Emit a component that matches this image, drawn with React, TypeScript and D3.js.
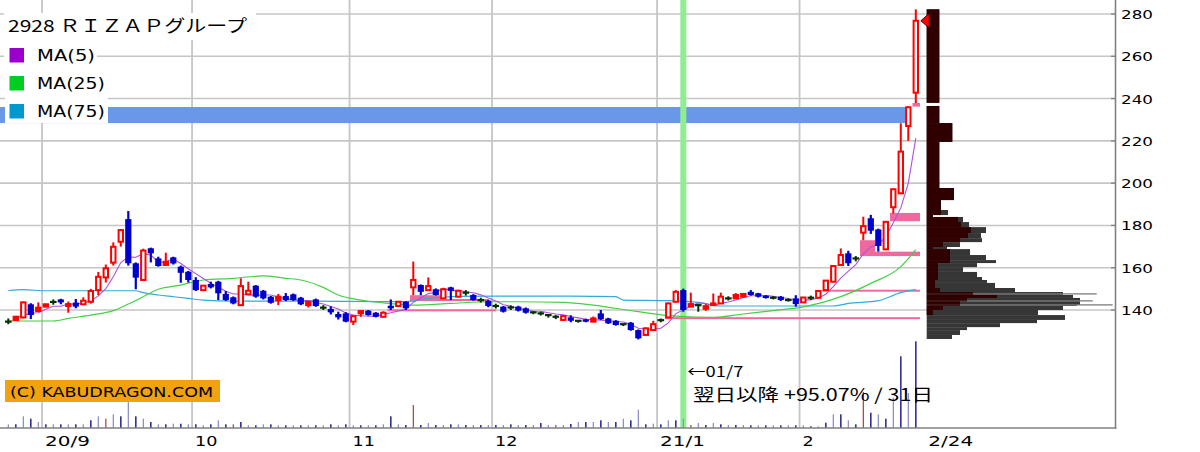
import React from 'react';
import * as d3 from 'd3';

// ---- data ----
const opens = [
  134.5, 135.3, 136.5, 142.7, 139.5, 141.6, 143.8, 145.0, 141.9, 143.5,
  142.7, 143.9, 149.4, 155.4, 162.4, 172.3, 183.0, 162.1, 154.2, 169.2,
  164.4, 161.3, 164.9, 160.5, 158.1, 154.2, 149.4, 152.3, 153.4, 147.6,
  146.0, 142.3, 147.4, 151.5, 149.1, 146.3, 144.7, 146.6, 147.4, 145.8,
  142.3, 145.0, 141.1, 140.5, 138.1, 138.4, 134.5, 138.4, 139.7, 138.7,
  136.8, 142.0, 141.9, 143.9, 150.7, 151.8, 149.4, 149.8, 145.5, 150.7,
  146.3, 148.2, 147.1, 144.7, 144.4, 141.9, 141.6, 141.2, 141.6, 140.8,
  138.9, 138.4, 137.6, 136.8, 135.3, 136.5, 134.9, 135.6, 134.5, 138.4,
  136.0, 134.9, 133.3, 134.0, 130.5, 128.2, 130.5, 135.2, 136.5, 143.9,
  149.4, 141.6, 142.3, 140.6, 142.3, 143.1, 145.5, 145.5, 146.3, 148.6,
  147.9, 146.8, 145.8, 146.3, 144.7, 145.5, 143.6, 145.8, 145.8, 149.4,
  153.4, 161.3, 166.8, 164.4, 176.6, 183.4, 178.1, 168.7, 188.6, 195.2,
  227.0, 242.8,
];
const highs = [
  136.0, 137.2, 144.0, 143.2, 143.6, 143.0, 145.0, 145.3, 144.0, 145.2,
  146.0, 150.0, 158.0, 161.5, 172.0, 178.0, 186.8, 162.5, 169.0, 169.5,
  165.2, 167.1, 165.2, 161.0, 158.5, 155.5, 151.8, 153.4, 153.8, 149.0,
  146.4, 155.0, 153.4, 151.8, 149.5, 146.6, 147.6, 148.0, 147.8, 146.2,
  144.3, 145.4, 142.3, 141.7, 139.2, 139.0, 137.5, 139.8, 140.0, 139.0,
  139.4, 145.0, 144.2, 144.2, 162.9, 152.1, 155.4, 150.2, 150.5, 151.0,
  149.5, 149.4, 147.5, 145.8, 144.8, 143.0, 141.9, 142.2, 142.0, 141.2,
  139.3, 139.2, 137.9, 137.6, 137.4, 137.5, 135.0, 135.9, 136.9, 140.0,
  136.3, 135.2, 133.3, 134.3, 130.8, 131.8, 134.9, 136.0, 143.5, 149.4,
  150.1, 148.2, 142.5, 142.8, 147.8, 148.2, 146.5, 148.0, 147.9, 149.4,
  148.1, 147.0, 146.6, 146.6, 145.5, 147.0, 146.2, 146.8, 149.1, 154.2,
  161.0, 169.1, 168.0, 165.5, 184.1, 185.0, 178.5, 182.0, 197.5, 228.3,
  236.2, 282.2,
];
const lows = [
  133.3, 135.0, 136.0, 135.7, 139.0, 141.2, 142.5, 142.7, 138.7, 140.8,
  142.3, 143.0, 147.0, 153.0, 161.0, 170.0, 161.0, 149.8, 154.0, 162.5,
  160.5, 161.0, 161.5, 152.9, 153.0, 149.0, 149.2, 150.2, 144.7, 144.3,
  142.7, 142.0, 147.0, 145.8, 145.0, 143.0, 142.3, 144.2, 144.3, 142.3,
  141.2, 141.5, 140.0, 137.9, 135.5, 134.2, 132.9, 136.8, 137.3, 136.5,
  136.5, 140.0, 141.5, 140.0, 147.0, 147.0, 149.0, 146.8, 145.2, 144.7,
  146.0, 146.8, 144.4, 143.5, 141.3, 140.7, 138.8, 140.0, 139.3, 138.3,
  138.0, 137.4, 136.4, 135.7, 135.0, 134.2, 134.0, 134.2, 134.2, 135.3,
  133.4, 132.6, 132.4, 130.2, 126.1, 127.9, 130.2, 134.2, 136.2, 143.5,
  139.2, 141.3, 139.2, 139.6, 142.0, 142.8, 144.5, 145.3, 146.0, 146.8,
  145.9, 145.4, 145.0, 144.3, 144.0, 141.6, 143.3, 144.8, 145.5, 149.4,
  153.0, 161.0, 160.8, 163.0, 173.0, 176.0, 167.6, 168.3, 185.7, 194.8,
  220.0, 237.9,
];
const closes = [
  134.5, 136.8, 143.6, 137.6, 141.1, 142.7, 143.8, 143.6, 142.8, 141.6,
  144.4, 149.0, 155.7, 159.7, 169.9, 177.8, 162.1, 155.3, 168.1, 166.8,
  160.8, 162.8, 162.0, 157.6, 154.2, 149.4, 151.5, 150.7, 147.9, 144.7,
  143.1, 151.3, 149.1, 146.3, 145.5, 143.4, 146.3, 144.7, 144.7, 142.7,
  143.9, 141.9, 141.1, 138.9, 136.5, 134.5, 137.1, 139.5, 137.6, 136.8,
  138.7, 140.8, 143.9, 140.8, 154.2, 148.6, 151.3, 147.1, 149.8, 149.1,
  149.1, 148.2, 144.7, 144.7, 141.9, 141.9, 139.2, 141.2, 139.7, 138.7,
  138.9, 138.4, 137.6, 136.8, 137.1, 134.9, 134.9, 134.5, 136.0, 135.6,
  133.7, 132.9, 133.3, 130.5, 126.6, 131.3, 133.3, 135.2, 143.1, 148.6,
  140.0, 142.8, 142.3, 141.8, 143.1, 146.3, 145.5, 147.1, 147.6, 147.1,
  146.3, 145.8, 145.8, 144.7, 144.7, 142.8, 145.9, 145.8, 149.0, 153.9,
  160.8, 166.0, 162.1, 164.4, 179.7, 177.5, 170.3, 181.7, 197.1, 214.9,
  235.9, 276.8,
];
// volume (10k shares)
const volumes = [
  37, 37, 117, 93, 60, 37, 37, 37, 37, 37,
  37, 77, 117, 93, 137, 117, 260, 117, 93, 60,
  37, 37, 43, 43, 37, 37, 27, 37, 77, 37,
  37, 60, 27, 27, 37, 37, 27, 27, 27, 27,
  27, 27, 27, 37, 27, 37, 27, 27, 27, 27,
  37, 117, 37, 30, 230, 30, 50, 30, 30, 37,
  37, 30, 30, 30, 30, 30, 30, 37, 30, 30,
  30, 50, 30, 30, 30, 40, 60, 60, 60, 77,
  60, 60, 93, 77, 183, 37, 43, 37, 77, 77,
  93, 30, 50, 30, 50, 37, 30, 30, 30, 27,
  27, 27, 27, 27, 27, 27, 27, 17, 17, 53,
  137, 137, 77, 37, 360, 153, 137, 93, 303, 717,
  350, 867,
];
const redVolumeDays = [13, 30, 54, 73, 91, 114];

// moving averages read at sample days
const ma5Head = [[1, 136.0], [2, 137.5], [3, 138.5]];
const ma25Days = [0, 6, 8, 11, 14, 16, 18, 20, 23, 26, 30, 34, 37, 39, 42, 44, 47, 50, 54, 59, 64, 68, 74, 78, 84, 89, 94, 98, 102, 106, 111, 115, 119, 121];
const ma25Vals = [134.8, 134.8, 136.0, 137.6, 139.7, 142.8, 146.3, 149.8, 151.8, 154.2, 155.0, 156.1, 155.0, 154.2, 150.7, 147.1, 144.7, 143.4, 142.3, 143.1, 143.9, 143.9, 143.6, 142.3, 139.2, 137.1, 136.5, 138.1, 139.7, 141.5, 146.3, 152.6, 160.5, 168.6];
const ma75Days = [0, 2, 5, 17, 18, 20, 22, 24, 26, 30, 40, 50, 53, 56, 60, 65, 75, 81, 82, 88, 92, 95, 110, 112, 116, 119, 121];
const ma75Vals = [149.1, 149.6, 149.1, 149.1, 148.2, 147.1, 146.3, 145.5, 144.7, 144.2, 144.2, 144.0, 144.0, 145.5, 146.4, 146.6, 146.6, 146.3, 144.7, 144.4, 143.6, 141.9, 141.9, 143.1, 144.4, 148.2, 149.6];

// unfilled price gaps: start day, end day, low, high
const gapStart = [51, 54, 58, 88, 109, 114, 116, 118, 121];
const gapEnd = [65.5, 58, 64.5, 122, 122, 116, 122, 122, 122];
const gapLow = [139.4, 144.2, 144.2, 136.0, 148.9, 165.5, 165.5, 182.0, 236.2];
const gapHigh = [140.3, 147.0, 145.2, 136.6, 149.6, 173.0, 167.6, 185.9, 237.9];

// volume-by-price profile
const profTop = [282.2, 236.5, 228.4, 219.5, 197.7, 192.0, 187.3, 184.9, 184.0, 181.6, 179.2, 176.4, 174.0, 172.1, 169.8, 168.8, 166.0, 163.6, 162.2, 160.3, 158.0, 155.6, 154.2, 152.8, 150.4, 148.5, 147.8, 147.4, 147.1, 145.7, 144.5, 144.1, 142.6, 142.2, 141.9, 140.0, 137.6, 135.3, 133.8, 131.9, 130.5, 128.2];
const profBottom = [238.0, 228.4, 219.5, 197.7, 192.0, 187.3, 184.9, 184.0, 181.6, 179.2, 176.4, 174.0, 172.1, 169.8, 168.8, 166.0, 163.6, 162.2, 160.3, 158.0, 155.6, 154.2, 152.8, 150.4, 148.5, 147.8, 147.4, 147.1, 145.7, 144.5, 144.1, 142.6, 142.2, 141.9, 140.0, 137.6, 135.3, 133.8, 131.9, 130.5, 128.2, 126.3];
const profRecent = [12.6, 12.6, 25.6, 12.6, 27.3, 14.3, 14.3, 6.3, 31.3, 34.3, 44.3, 41.3, 33.3, 16.3, 6.3, 23.3, 23.3, 23.3, 11.3, 11.3, 11.3, 11.3, 8.3, 8.3, 13.3, 46.3, 46.3, 46.3, 70.3, 40.3, 40.3, 33.3, 33.3, 33.3, 16.3, 6.3, 0, 0, 0, 0, 0, 0];
const profAll = [12.6, 12.6, 25.6, 12.6, 27.3, 14.3, 21.3, 6.3, 36.3, 42.3, 59.3, 54.3, 55.3, 33.3, 20.3, 43.3, 59.3, 69.3, 50.3, 36.3, 50.3, 55.3, 60.3, 68.3, 88.3, 136.3, 170.0, 136.3, 146.3, 153.3, 166.0, 153.3, 186.0, 150.0, 136.3, 111.3, 138.3, 110.3, 73.3, 40.3, 33.3, 25.3];

// resistance band
const bandLow = 228.4;
const bandHigh = 236.0;

const priceTicks = [140, 160, 180, 200, 220, 240, 260, 280];
const monthLabels = ['20/9', '10', '11', '12', '21/1', '2'];
const monthStartDays = [5, 25, 46, 65, 87, 106];
const lastDayLabel = '2/24';
const markerDay = 90;
const markerLabel = '←01/7';
const markerNote = '翌日以降 +95.07% / 31日';
const title = '2928 ＲＩＺＡＰグループ';
const legendNames = ['MA(5)', 'MA(25)', 'MA(75)'];
const legendColors = ['#9900cc', '#00cc22', '#0099cc'];

const FONT = "'DejaVu Sans', 'Noto Sans CJK JP', sans-serif";
const JFONT = "'Noto Sans CJK JP', 'DejaVu Sans', sans-serif";

export default function App() {
  const W = 1200;
  const H = 452;
  const N = closes.length;
  const x = d3.scaleLinear().domain([0, N - 1]).range([8.3, 915.8]);
  const y = d3.scaleLinear().domain([140, 280]).range([310, 14]);
  const yVol = d3.scaleLinear().domain([0, 1000]).range([428, 328]);
  const xProf = d3.scaleLinear().domain([0, 200]).range([926.7, 1126.7]);
  const axisX = 1115.5;
  const axisY = 428;

  const ma5: [number, number][] = ma5Head.map((d) => [d[0], d[1]] as [number, number]);
  for (let i = 4; i < N; i++) {
    ma5.push([i, d3.mean(closes.slice(i - 4, i + 1)) as number]);
  }
  const ma25: [number, number][] = ma25Days.map((d, i) => [d, ma25Vals[i]]);
  const ma75: [number, number][] = ma75Days.map((d, i) => [d, ma75Vals[i]]);
  const lineStraight = d3.line<[number, number]>().x((d) => x(d[0])).y((d) => y(d[1]));
  const lineSmooth = d3.line<[number, number]>().x((d) => x(d[0])).y((d) => y(d[1])).curve(d3.curveMonotoneX);

  const gridX = monthStartDays.map((d) => x(d - 0.5));

  return (
    <svg width={W} height={H} style={{ position: 'absolute', left: 0, top: 0, background: '#fff' }}
      xmlns="http://www.w3.org/2000/svg">
      <rect x={0} y={0} width={W} height={H} fill="#ffffff" />
      {/* horizontal grid */}
      {priceTicks.map((t) => (
        <line key={'hg' + t} x1={0} x2={axisX} y1={y(t)} y2={y(t)} stroke="#c6c6c6" strokeWidth={1.6} />
      ))}
      {/* vertical grid */}
      {gridX.map((gx, i) => (
        <line key={'vg' + i} x1={gx} x2={gx} y1={0} y2={axisY} stroke="#c6c6c6" strokeWidth={1.8} />
      ))}
      {/* resistance band */}
      <rect x={0} y={y(bandHigh)} width={x(120) - 2.8} height={y(bandLow) - y(bandHigh)} fill="#6a98e8" />
      {/* marker line */}
      <rect x={x(markerDay) - 3} y={0} width={6} height={axisY} fill="#90ee90" />
      {/* gaps */}
      {gapStart.map((s, i) => {
        const x0 = x(s) - 3.3;
        const x1 = Math.min(x(gapEnd[i]) - 3.3, x(N - 1) + 4.2);
        const yt = y(gapHigh[i]);
        const yb = y(gapLow[i]);
        return (
          <rect key={'gap' + i} x={x0} y={yt} width={x1 - x0} height={Math.max(2, yb - yt)} fill="#ee6a9e" />
        );
      })}
      {/* volume */}
      {volumes.map((v, i) => {
        const red = redVolumeDays.includes(i);
        const col = red ? '#b24a4a' : i % 2 === 1 ? '#00007e' : '#9090cc';
        return (
          <rect key={'v' + i} x={x(i) - 0.6} y={yVol(v)} width={1.3} height={axisY - yVol(v)} fill={col} />
        );
      })}
      {/* moving averages */}
      <path d={lineSmooth(ma75) || ''} fill="none" stroke="#33aadd" strokeWidth={1.2} />
      <path d={lineSmooth(ma25) || ''} fill="none" stroke="#44d044" strokeWidth={1.2} />
      <path d={lineStraight(ma5) || ''} fill="none" stroke="#b050e0" strokeWidth={1.1} />
      {/* candles */}
      {closes.map((c, i) => {
        const o = opens[i];
        const cx = x(i);
        const hi = y(highs[i]);
        const lo = y(lows[i]);
        if (c === o) {
          return (
            <g key={'c' + i} stroke="#003300">
              <line x1={cx} x2={cx} y1={hi} y2={lo} strokeWidth={2} />
              <line x1={cx - 3.3} x2={cx + 3.3} y1={y(c)} y2={y(c)} strokeWidth={2.2} />
            </g>
          );
        }
        if (c > o) {
          const top = y(c);
          const bot = y(o);
          const small = bot - top < 3.5;
          return (
            <g key={'c' + i}>
              <line x1={cx} x2={cx} y1={hi} y2={lo} stroke="#ff0000" strokeWidth={2} />
              {small ? (
                <rect x={cx - 3.2} y={top - 1} width={6.4} height={bot - top + 2} fill="#ff0000" />
              ) : (
                <rect x={cx - 2.2} y={top} width={4.4} height={bot - top} fill="#ffffff" stroke="#ff0000" strokeWidth={2} />
              )}
            </g>
          );
        }
        const top = y(o);
        const bot = y(c);
        return (
          <g key={'c' + i}>
            <line x1={cx} x2={cx} y1={hi} y2={lo} stroke="#0000cc" strokeWidth={2.2} />
            <rect x={cx - 3.1} y={top} width={6.2} height={Math.max(2.4, bot - top)} fill="#0000cc" />
          </g>
        );
      })}
      {/* volume by price profile */}
      {profTop.map((t, i) => (
        <rect key={'pa' + i} x={xProf(0)} y={y(t)} width={xProf(profAll[i]) - xProf(0)}
          height={y(profBottom[i]) - y(t)} fill="#363636" />
      ))}
      {profTop.map((t, i) =>
        profRecent[i] > 0 ? (
          <rect key={'pr' + i} x={xProf(0)} y={y(t)} width={xProf(profRecent[i]) - xProf(0)}
            height={y(profBottom[i]) - y(t)} fill="#300000" />
        ) : null
      )}
      {/* current price marker */}
      <path
        d={`M${x(N - 1) + 5},${y(closes[N - 1])} L${x(N - 1) + 13.5},${y(closes[N - 1]) - 7.5} L${x(N - 1) + 13.5},${y(closes[N - 1]) + 7.5} Z`}
        fill="#ff0000" stroke="#000" strokeWidth={0.8} />
      {/* axes */}
      <line x1={axisX} x2={axisX} y1={0} y2={axisY + 1} stroke="#808080" strokeWidth={1.6} />
      <line x1={0} x2={axisX + 0.8} y1={axisY} y2={axisY} stroke="#808080" strokeWidth={1.6} />
      {priceTicks.map((t) => (
        <g key={'yt' + t}>
          <line x1={axisX - 4.5} x2={axisX} y1={y(t)} y2={y(t)} stroke="#808080" strokeWidth={1.3} />
          <text x={1121} y={y(t) + 5} fontFamily={FONT} fontSize={13} fill="#000" textLength={32}
            lengthAdjust="spacingAndGlyphs">{t}</text>
        </g>
      ))}
      {monthLabels.map((m, i) => (
        <text key={'xl' + i} x={gridX[i] + 3} y={446} fontFamily={FONT} fontSize={14} fill="#000"
          textLength={m.length * 11.2} lengthAdjust="spacingAndGlyphs">{m}</text>
      ))}
      <text x={x(N - 1) + 12.5} y={446} fontFamily={FONT} fontSize={14} fill="#000"
        textLength={45} lengthAdjust="spacingAndGlyphs">{lastDayLabel}</text>
      {/* legend */}
      <rect x={4} y={13} width={252} height={27} fill="#fff" />
      <rect x={4} y={40} width={93} height={28} fill="#fff" />
      <rect x={4} y={68} width={104} height={28} fill="#fff" />
      <rect x={5} y={96} width={103} height={27} fill="#fff" />
      <text x={8} y={32} fontFamily={JFONT} fontSize={17} fill="#000" textLength={239}
        lengthAdjust="spacingAndGlyphs">{title}</text>
      {legendNames.map((n, i) => (
        <g key={'lg' + i}>
          <rect x={9.5} y={48 + i * 28} width={14.5} height={14.5} fill={legendColors[i]} />
          <text x={37} y={61 + i * 28} fontFamily={FONT} fontSize={15} fill="#000"
            textLength={i === 0 ? 58 : 68} lengthAdjust="spacingAndGlyphs">{n}</text>
        </g>
      ))}
      {/* annotations */}
      <text x={x(markerDay) + 4} y={377} fontFamily={JFONT} fontSize={15} fill="#000" textLength={56}
        lengthAdjust="spacingAndGlyphs">{markerLabel}</text>
      <text x={693} y={401} fontFamily={JFONT} fontSize={17} fill="#000" textLength={240}
        lengthAdjust="spacingAndGlyphs">{markerNote}</text>
      <rect x={5} y={380} width={215} height={22} fill="#f2a20f" />
      <text x={10} y={397} fontFamily={FONT} fontSize={14} fill="#000" textLength={203}
        lengthAdjust="spacingAndGlyphs">(C) KABUDRAGON.COM</text>
    </svg>
  );
}
